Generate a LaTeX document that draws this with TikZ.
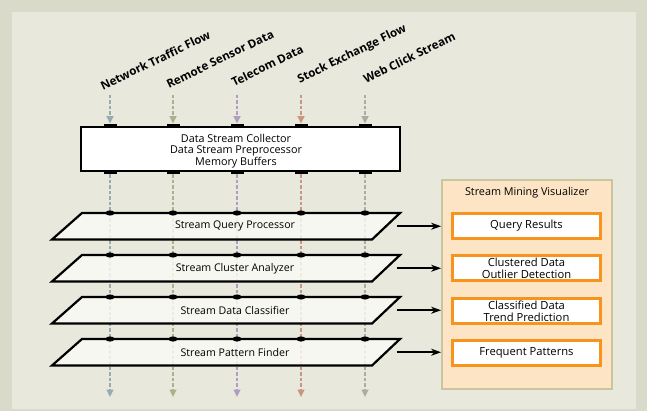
\documentclass[tikz,border=0pt]{standalone}
\usepackage{fontspec}
\setmainfont{Open Sans}
\usetikzlibrary{arrows.meta}
\definecolor{outerbg}{HTML}{D9DAC9}
\definecolor{innerbg}{HTML}{E8E8DD}
\definecolor{colA}{HTML}{98ABB1}
\definecolor{colB}{HTML}{ABB18B}
\definecolor{colC}{HTML}{AE9FC0}
\definecolor{colD}{HTML}{C8977F}
\definecolor{colE}{HTML}{ADABA2}
\definecolor{peach}{HTML}{FCE4C4}
\definecolor{panelborder}{HTML}{C9C59E}
\definecolor{orng}{HTML}{F7941D}
\definecolor{parafill}{HTML}{FBFBF6}
\tikzset{
  lbl/.style={font=\fontsize{11.6}{13}\selectfont\bfseries, inner sep=0pt, rotate=26, anchor=south west},
  tabbox/.style={fill=black, minimum width=13pt, minimum height=4.5pt, inner sep=0pt},
  flowline/.style={line width=1.6pt, dash pattern=on 3.5pt off 2pt},
  flowtip/.style={-{Triangle[length=7.5pt,width=7pt]}},
  mainbox/.style={draw=black, line width=2pt, fill=white, minimum width=319pt, minimum height=44pt, inner sep=0pt},
  boxtext/.style={inner sep=0pt, align=center, font=\fontsize{10.8}{11.6}\selectfont},
  parastyle/.style={draw=black, line width=2.2pt, line join=miter, fill=parafill, fill opacity=0.82},
  paratext/.style={font=\fontsize{10.6}{12}\selectfont, inner sep=0pt},
  outarrow/.style={line width=1.6pt, -{Stealth[length=10pt,width=7pt]}},
  panelbox/.style={draw=panelborder, line width=1.8pt, fill=peach, minimum width=170pt, minimum height=209pt, inner sep=0pt},
  resbox/.style={draw=orng, line width=3.2pt, fill=white, minimum width=148pt, minimum height=25pt, inner sep=0pt, align=center, font=\fontsize{11.2}{12}\selectfont},
}
\begin{document}
\begin{tikzpicture}[x=1pt,y=-1pt]
\fill[outerbg] (0,0) rectangle (647,411);
\fill[innerbg] (12,12) rectangle (636,409);
\useasboundingbox (0,0) rectangle (647,411);

% labels
\node[lbl] (l1) at (103,91) {Network Traffic Flow};
\node[lbl] (l2) at (169,89) {Remote Sensor Data};
\node[lbl] (l3) at (234,87) {Telecom Data};
\node[lbl] (l4) at (301,86) {Stock Exchange Flow};
\node[lbl] (l5) at (366,84) {Web Click Stream};

% main box
\node[mainbox] (coll) at (240.5,149) {};
\node[boxtext] (collt) at (236,151) {Data Stream Collector\\Data Stream Preprocessor\\Memory Buffers};

% columns
\foreach \i/\x/\c in {1/110/colA,2/173/colB,3/237/colC,4/301/colD,5/365/colE}{
  \coordinate (s\i) at (\x,95);
  \coordinate (e\i) at (\x,397);
  \node[tabbox] (tt\i) at (\x,126) {};
  \node[tabbox] (tb\i) at (\x,172) {};
  \draw[flowline, draw=\c, flowtip] (s\i) -- (tt\i.north);
  \draw[flowline, draw=\c, flowtip] (tb\i.south) -- (e\i);
}

% parallelograms
\foreach \k/\t/\txt in {1/213/Stream Query Processor,2/255/Stream Cluster Analyzer,3/297/Stream Data Classifier,4/339/Stream Pattern Finder}{
  \path[parastyle] (82,\t) -- (400,\t) -- (372,\t+26.5) -- (52,\t+26.5) -- cycle;
  \node[paratext] (p\k) at (235,\t+13.25) {\txt};
  \coordinate (pr\k) at (397,\t+13.25);
  \foreach \x in {110,173,237,301,365}{
    \fill (\x,\t) ellipse (4.5pt and 2.6pt);
  }
}

% visualizer panel
\node[panelbox] (viz) at (527,284.5) {};
\node[font=\fontsize{10.8}{12}\selectfont, inner sep=0pt] (vizt) at (527,193) {Stream Mining Visualizer};
\node[resbox] (r1) at (526.5,226) {Query Results};
\node[resbox] (r2) at (526.5,268) {Clustered Data\\Outlier Detection};
\node[resbox] (r3) at (526.5,311) {Classified Data\\Trend Prediction};
\node[resbox] (r4) at (526.5,353) {Frequent Patterns};

\foreach \k in {1,2,3,4}{
  \draw[outarrow] (pr\k) -- (pr\k -| viz.west);
}
\end{tikzpicture}
\end{document}
